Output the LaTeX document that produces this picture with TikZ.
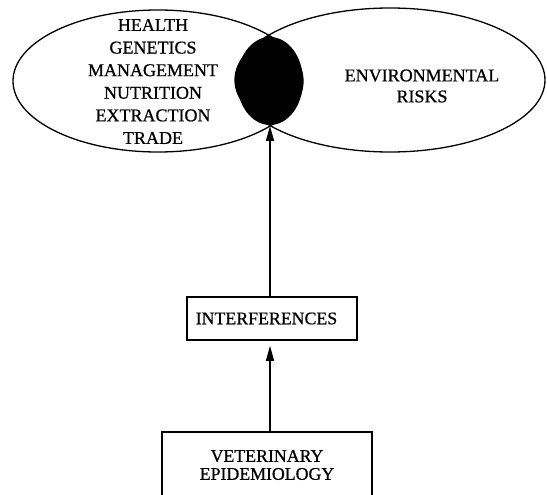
\documentclass[tikz,border=0pt]{standalone}
\usepackage{fontspec}
\setmainfont{Liberation Serif}[FakeBold=0.7]
\usetikzlibrary{shapes.geometric,arrows.meta}
\begin{document}
\begin{tikzpicture}[x=1pt,y=-1pt,
  oval/.style={ellipse,draw,line width=1.3pt,inner sep=0pt},
  labeltext/.style={align=center,font=\fontsize{18pt}{22.6pt}\selectfont,inner sep=0pt},
  framebox/.style={draw,line width=1.6pt,inner sep=0pt,align=center,
    font=\fontsize{17.8pt}{18pt}\selectfont},
  arr/.style={line width=1.3pt,-{Triangle[length=15pt,width=8pt]}}]
\useasboundingbox (0,0) rectangle (547,495);
\clip (0,0) rectangle (547,495);

% the two overlapping domains
\node[oval,minimum width=290pt,minimum height=142pt] (left) at (158,81) {};
\node[oval,minimum width=310pt,minimum height=144pt] (right) at (390,80) {};
% their common zone, filled black: the lens plus a rounded core
\begin{scope}
  \clip (left.center) ellipse [x radius=145pt,y radius=71pt];
  \fill (right.center) ellipse [x radius=155pt,y radius=72pt];
\end{scope}
\node[ellipse,fill=black,inner sep=0pt,minimum width=66pt,minimum height=88pt] (core) at (270,81) {};
\coordinate (coretip) at (270,126);

\node[labeltext] (lefttext) at (153,81.5)
  {HEALTH\\GENETICS\\MANAGEMENT\\NUTRITION\\EXTRACTION\\TRADE};
\node[labeltext,font=\fontsize{18pt}{21pt}\selectfont] (righttext) at (422,86)
  {ENVIRONMENTAL\\RISKS};

% boxes below
\node[framebox,minimum width=170pt,minimum height=43pt] (inter) at (272,318.5)
  {\hspace*{-11pt}INTERFERENCES};
\node[framebox,minimum width=210pt,minimum height=66pt] (vet) at (267,465)
  {VETERINARY\\EPIDEMIOLOGY};

% connectors
\draw[arr] (vet.north -| coretip) -- ([yshift=-5pt]inter.south -| coretip);
\draw[arr] (inter.north -| coretip) -- (coretip);
\end{tikzpicture}
\end{document}
